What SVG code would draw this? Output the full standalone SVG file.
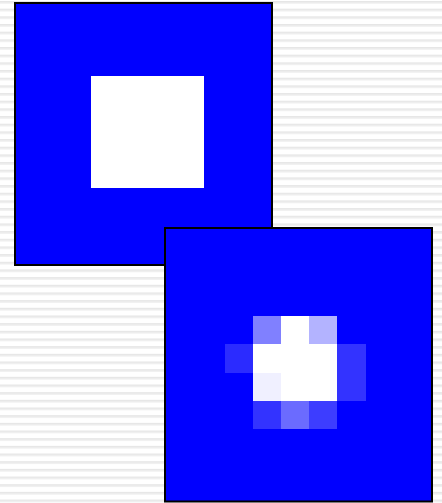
<svg xmlns="http://www.w3.org/2000/svg" width="442" height="503" viewBox="0 0 442 503">
  <defs>
    <pattern id="stripes" patternUnits="userSpaceOnUse" x="0" y="1" width="442" height="7.67">
      <rect x="0" y="0" width="442" height="7.67" fill="#ffffff"/>
      <rect x="0" y="0.3" width="442" height="1.2" fill="#dcdcdc"/>
      <rect x="0" y="1.5" width="442" height="1.2" fill="#eeeeee"/>
    </pattern>
    <style>
      .panel { fill: #0000ff; stroke: #000000; stroke-width: 2; }
      .px { fill: #ffffff; }
    </style>
  </defs>
  <rect x="0" y="0" width="442" height="503" fill="url(#stripes)"/>
  <g id="original">
    <rect class="panel" x="15" y="3" width="257" height="262"/>
    <rect class="px" x="91" y="76" width="113" height="112"/>
  </g>
  <g id="blurred">
    <rect class="panel" x="165" y="228" width="267" height="273.5"/>
    <rect class="px" x="253" y="316" width="28" height="28" fill-opacity="0.5"/>
    <rect class="px" x="281" y="316" width="28" height="28"/>
    <rect class="px" x="309" y="316" width="28" height="28" fill-opacity="0.7"/>
    <rect class="px" x="225" y="344" width="28" height="29" fill-opacity="0.17"/>
    <rect class="px" x="253" y="344" width="84" height="29"/>
    <rect class="px" x="337" y="344" width="29" height="29" fill-opacity="0.2"/>
    <rect class="px" x="253" y="373" width="28" height="28" fill-opacity="0.94"/>
    <rect class="px" x="281" y="373" width="56" height="28"/>
    <rect class="px" x="337" y="373" width="29" height="28" fill-opacity="0.2"/>
    <rect class="px" x="253" y="401" width="28" height="28" fill-opacity="0.2"/>
    <rect class="px" x="281" y="401" width="28" height="28" fill-opacity="0.42"/>
    <rect class="px" x="309" y="401" width="28" height="28" fill-opacity="0.24"/>
  </g>
  <g id="connectors"/>
</svg>
